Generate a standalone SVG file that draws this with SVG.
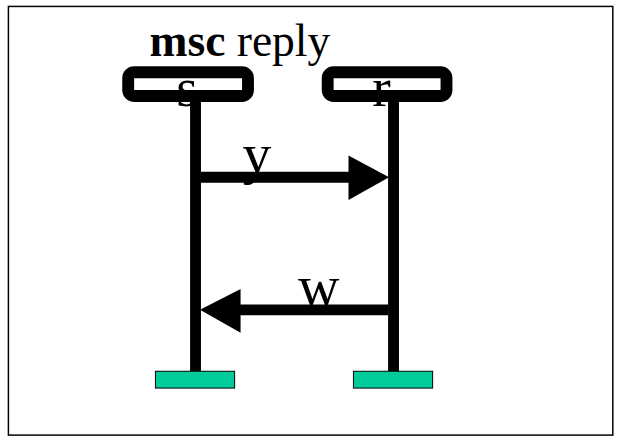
<svg xmlns="http://www.w3.org/2000/svg" width="618" height="441" viewBox="0 0 618 441">
<style>
.lbl{font-family:"Liberation Serif","Times New Roman",serif;fill:#000}
.head{fill:none;stroke:#000;stroke-width:12}
.life{stroke:#000;stroke-width:11}
.msg{stroke:#000;stroke-width:11}
.end{fill:#00CC99;stroke:#000;stroke-width:1}
</style>
<rect width="618" height="441" fill="#fff"/>
<g transform="scale(0.99)">
<rect x="8.5" y="6.5" width="610.5" height="433" fill="none" stroke="#000" stroke-width="1.5"/>
<text class="lbl" x="151" y="57" font-size="46"><tspan font-weight="bold">msc</tspan> reply</text>
<g id="s">
<rect class="head" x="129.5" y="73" width="121" height="24" rx="6"/>
<text class="lbl" x="178" y="107" font-size="56">s</text>
<line class="life" x1="197.5" y1="97" x2="197.5" y2="375"/>
<rect class="end" x="157" y="375" width="80" height="17"/>
</g>
<g id="r">
<rect class="head" x="331" y="73" width="120" height="24" rx="6"/>
<text class="lbl" x="376" y="107" font-size="56">r</text>
<line class="life" x1="397.5" y1="97" x2="397.5" y2="375"/>
<rect class="end" x="357" y="375" width="80" height="17"/>
</g>
<g id="connectors">
<line class="msg" x1="203" y1="179" x2="354" y2="179"/>
<polygon points="352,157 393,179 352,202" fill="#000"/>
<text class="lbl" x="245" y="175" font-size="58">y</text>
<line class="msg" x1="392" y1="313" x2="241" y2="313"/>
<polygon points="243,292 202,313 243,336" fill="#000"/>
<text class="lbl" x="301" y="308" font-size="58">w</text>
</g>
</g>
</svg>
